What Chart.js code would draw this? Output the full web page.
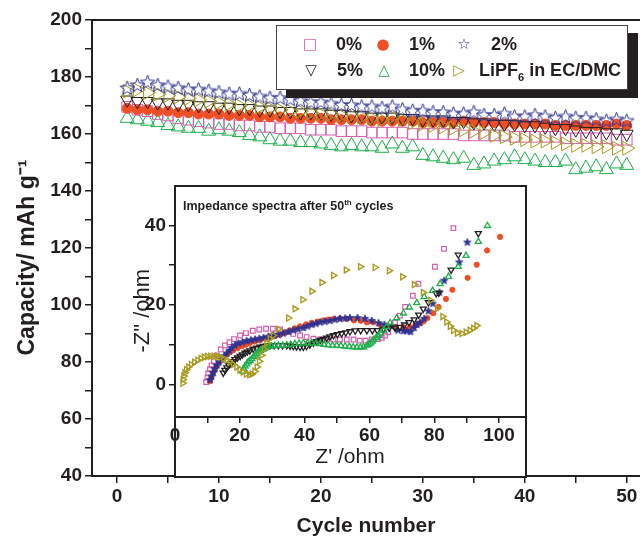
<!DOCTYPE html>
<html>
<head>
<meta charset="utf-8">
<script src="https://cdn.jsdelivr.net/npm/chart.js@4.4.0/dist/chart.umd.min.js"></script>
<style>
html,body{margin:0;padding:0;background:#fff;}
#wrap{position:relative;width:640px;height:538px;overflow:hidden;font-family:"Liberation Sans",Arial,sans-serif;color:#231f20;}
#main{position:absolute;left:0;top:0;}
#frame{position:absolute;left:174px;top:185px;width:349px;height:289px;border:2px solid #231f20;background:#fff;}
#inset{position:absolute;left:100px;top:186px;}
#ititle{position:absolute;left:183px;top:198px;font-weight:bold;font-size:12.5px;white-space:nowrap;}
#ititle sup{font-size:8px;}
#legend{position:absolute;left:276px;top:25px;width:350px;height:63px;border:1px solid #444;background:#fff;box-shadow:10px 8px 0 #231f20;}
.sym{position:absolute;font-family:"DejaVu Sans",sans-serif;font-size:15px;line-height:15px;transform:translate(-50%,-50%);}
.lt{position:absolute;font-weight:bold;font-size:18px;line-height:18px;white-space:nowrap;}
.lt sub{font-size:11px;vertical-align:-5px;line-height:0;}
</style>
</head>
<body>
<div id="wrap">
  <canvas id="main" width="640" height="538"></canvas>
  <div id="frame"></div>
  <canvas id="inset" width="425" height="290"></canvas>
  <div id="ititle">Impedance spectra after 50<sup>th</sup> cycles</div>
  <div id="legend">
    <span class="sym" style="left:33px;top:18px;color:#d45fb0">□</span>
    <span class="lt" style="left:59px;top:9px">0%</span>
    <span class="sym" style="left:106px;top:18px;color:#f04e23">●</span>
    <span class="lt" style="left:132px;top:9px">1%</span>
    <span class="sym" style="left:187px;top:18px;color:#2e3192">☆</span>
    <span class="lt" style="left:214px;top:9px">2%</span>
    <span class="sym" style="left:34px;top:44px;color:#231f20">▽</span>
    <span class="lt" style="left:60px;top:35px">5%</span>
    <span class="sym" style="left:107px;top:44px;color:#1fae4b">△</span>
    <span class="lt" style="left:132px;top:35px">10%</span>
    <span class="sym" style="left:182px;top:44px;color:#a89c20">▷</span>
    <span class="lt" style="left:202px;top:35px">LiPF<sub>6</sub> in EC/DMC</span>
  </div>
</div>
<script>
// ---- main chart: capacity vs cycle ----
var cycles = [];
for (var i = 1; i <= 50; i++) cycles.push(i);

var cap0 = [169.5,168.5,168,167,166.5,165.5,165,164.5,164,163.5,163.5,163,163,162.5,162.5,162,162,162,161.5,161.5,161.5,161,161,161,160.5,160.5,160.5,160.5,160,160,160,160,160,159.5,159.5,159.5,159.5,159.5,159,159,159,159,159,158.5,158.5,158.5,158.5,158.5,158,158];
var cap1 = [169,168.5,168.5,168,168,167.5,167.5,167,167,167,166.5,166.5,166.5,166,166,166,165.5,165.5,165.5,165.5,165,165,165,165,164.5,164.5,164.5,164.5,164.5,164,164,164,164,164.5,164,164,164,163.5,163.5,163.5,163.5,163.5,163,163,163,163,163,163,163.5,163];
var cap2 = [176,177,178,177,176.5,176,175.5,175.5,175,174.5,174,174,173.5,173,172.5,172.5,172,171.5,171,171,170.5,170,170,169.5,169.5,169,169.5,168.5,168,168,167.5,167.5,167,167,167.5,166.5,166.5,167,166,166,166.5,166,165.5,166,165.5,165.5,165,164.5,165,164.5];
var cap5 = [172,171.5,171.5,171,171,170.5,170.5,170,170,169.5,169.5,169,169,168.5,168.5,168,168,167.5,167.5,167.5,167,167,166.5,166.5,166,166,166,165.5,165.5,165,165,165,164.5,164.5,164,164,163.5,163.5,163.5,163,163,162.5,162,162,161.5,161,161,160.5,160.5,160];
var cap10 = [165.5,165,164.5,164,163,162.5,162,162,161,161.5,161,160.5,159.5,159,158,157.5,157.5,157,157,156.5,156,155.5,156,155.5,155.5,155,156.5,155,155.5,152.5,152,151.5,151,151.5,149,149.5,150.5,151,152,151,150.5,150,150,150.5,147.5,148,148.5,147.5,149.5,149];
var capL = [175,175.5,174.5,174,173.5,173,172.5,172,171.5,171,170.5,170,170,169.5,169,168.5,168,168,167.5,167,167,166.5,166.5,166,165.5,165,166,165,164,163.5,163,162.5,162,161.5,161,160.5,159.5,159,158.5,158,157.5,157.5,157,156.5,156,156,155.5,155.5,155,155];

// ---- inset: Nyquist plots after 50 cycles (Z' , -Z'') ----
var re0 = [9.6,10.0,10.3,10.8,11.3,12.0,12.9,14.1,15.4,16.8,18.2,20.1,21.9,24.0,26.0,28.1,30.2,32.4,34.5,36.5,38.6,40.6,42.7,44.8,46.8,48.9,50.9,53.0,55.1,57.0,58.8,60.7,62.6,63.8,64.8,65.8,67.9,69.4,71.0,73.4,75.1,80.2,83.0,85.9];
var im0 = [0.6,1.7,2.8,3.8,4.8,5.8,7.3,8.8,9.8,10.6,11.4,12.3,12.9,13.5,13.8,14.0,14.0,13.8,13.2,12.7,12.3,11.9,11.5,11.3,11.3,11.3,11.3,11.3,11.3,11.0,11.0,11.3,11.4,11.7,12.3,13.1,15.6,17.3,19.5,22.3,25.3,29.6,34.1,39.3];
var re1 = [10.8,11.2,11.7,12.3,13.1,13.9,15.0,16.0,17.0,18.0,19.3,20.6,21.9,23.1,24.6,26.2,27.8,29.3,30.9,32.4,34.0,35.5,37.0,38.6,40.4,42.2,44.0,45.8,47.3,48.9,50.9,53.0,55.2,57.3,59.2,61.2,63.3,65.8,67.9,70.5,72.5,74.1,75.4,76.6,77.9,79.7,81.3,83.6,85.6,90.3,93.1,96.3,100.3];
var im1 = [0.8,1.8,2.8,3.8,4.8,5.8,6.7,7.5,8.1,8.6,9.1,9.6,10.0,10.4,10.8,11.1,11.5,11.9,12.2,12.5,13.0,13.6,14.1,14.6,15.1,15.5,15.8,16.1,16.3,16.5,16.6,16.5,16.1,16.0,15.6,15.6,15.0,14.6,14.4,14.4,14.4,14.8,15.3,15.8,16.7,17.9,19.5,21.5,23.8,26.8,30.1,33.7,37.1];
var re2 = [10.8,11.3,11.8,12.3,12.9,13.6,14.4,15.2,16.0,16.8,17.5,18.5,19.5,20.8,22.1,23.4,24.7,26.0,27.3,28.8,30.3,31.8,33.4,35.0,36.5,38.0,39.6,40.9,42.2,43.5,44.8,46.3,47.8,49.4,50.9,52.5,54.0,56.3,58.6,60.7,62.8,64.6,66.9,68.8,70.5,71.5,72.7,73.8,74.6,75.6,76.9,78.2,79.5,81.6,83.1,87.7,90.2];
var im2 = [1.1,2.0,2.9,3.9,4.8,5.6,6.3,7.1,7.8,8.5,9.2,9.8,10.3,10.6,10.9,11.1,11.3,11.5,11.7,12.0,12.3,12.5,12.8,13.2,13.6,13.9,14.2,14.6,15.0,15.3,15.6,15.8,16.0,16.3,16.5,16.6,16.7,16.7,16.5,16.0,15.4,15.0,14.6,13.6,13.4,13.4,13.2,14.2,15.0,15.5,16.5,18.4,20.3,23.1,26.1,30.7,35.7];
var re5 = [14.9,15.4,16.0,16.6,17.2,17.8,18.5,19.3,20.1,20.8,21.6,22.3,23.1,24.1,25.2,26.2,27.3,28.3,29.3,30.6,31.9,33.2,34.5,35.5,36.5,37.5,38.6,39.6,40.6,41.6,42.7,43.7,44.8,45.8,46.8,47.8,48.9,50.1,51.4,52.7,54.0,55.6,57.3,59.2,60.9,62.4,64.3,66.1,67.9,69.4,70.8,72.2,73.8,75.2,76.6,78.2,80.6,81.4,85.2,87.4,93.6];
var im5 = [2.9,3.6,4.2,4.8,5.3,5.8,6.3,6.7,7.1,7.5,7.9,8.2,8.5,8.9,9.2,9.4,9.6,9.7,9.8,9.8,9.8,9.8,9.8,9.7,9.6,9.5,9.4,9.4,9.6,10.0,10.4,10.8,11.1,11.4,11.7,12.0,12.3,12.6,12.8,13.0,13.3,13.5,13.6,13.6,13.6,13.6,13.9,14.2,14.2,14.4,15.0,15.6,16.3,17.5,19.0,20.6,22.9,23.0,28.8,32.6,38.0];
var re10 = [20.9,21.2,21.6,22.1,22.6,23.1,23.7,24.2,24.7,25.2,25.7,26.4,27.1,27.7,28.3,29.0,29.8,30.8,31.9,33.2,34.5,35.7,37.0,38.3,39.6,40.9,42.2,43.5,44.8,46.0,47.3,48.6,49.9,51.2,52.5,53.8,55.0,56.1,57.2,58.2,59.2,59.8,60.4,60.9,61.4,62.1,62.8,63.5,64.3,65.3,66.4,68.4,70.5,72.3,74.6,76.9,79.5,81.8,84.4,87.4,89.8,93.6,96.4];
var im10 = [3.3,4.0,4.6,5.1,5.6,6.0,6.4,6.9,7.3,7.7,8.1,8.5,8.8,9.1,9.3,9.5,9.6,9.7,9.8,9.8,9.9,10.0,10.2,10.3,10.4,10.4,10.4,10.3,10.2,10.0,9.9,9.8,9.8,9.7,9.6,9.5,9.4,9.3,9.3,9.4,9.8,10.1,10.4,10.8,11.3,11.8,12.3,12.9,13.6,14.5,15.5,16.7,17.9,19.4,20.5,22.0,23.6,25.3,27.1,29.6,32.4,35.9,39.9];
var reL = [2.4,2.5,2.7,3.0,3.5,4.2,5.0,6.0,7.0,8.0,9.0,10.0,11.0,12.0,13.0,14.0,15.0,16.0,17.0,18.0,19.0,20.0,21.0,22.0,23.0,23.8,24.6,25.3,26.0,26.7,27.5,28.3,29.3,30.3,31.9,35.0,37.0,39.4,42.2,45.3,48.9,52.8,57.2,61.7,66.1,70.2,73.8,76.6,78.9,81.0,82.6,83.8,84.9,85.9,87.1,88.5,89.8,91.0,92.1,93.1];
var imL = [0.3,1.2,2.1,2.9,3.7,4.4,5.0,5.6,6.1,6.5,6.8,7.0,7.1,7.1,7.0,6.8,6.5,6.1,5.6,5.0,4.4,3.7,3.1,2.6,2.4,2.6,3.3,4.4,5.8,7.3,8.9,10.4,11.5,12.3,13.9,16.7,19.0,21.3,23.4,25.6,27.4,28.8,29.6,29.4,28.6,27.1,25.1,23.1,21.1,19.1,17.1,15.7,14.6,13.6,12.9,12.8,13.1,13.6,14.1,14.8];

var FONT = '"Liberation Sans", Arial, sans-serif';
var INK = '#231f20';
var PINK = '#d45fb0', ORANGE = '#f04e23', NAVY = '#2e3192', BLACK = '#231f20', GREEN = '#1fae4b', OLIVE = '#a89c20';

function pts(xs, ys){
  var out = [];
  for (var i = 0; i < xs.length; i++) out.push({x: xs[i], y: ys[i]});
  return out;
}

// 5-point star, chart.js only has the asterisk type
function makeStar(r, stroke, fill, lw){
  var c = document.createElement('canvas');
  var s = Math.ceil(2*r + 2*lw + 2);
  c.width = s; c.height = s;
  var g = c.getContext('2d');
  g.beginPath();
  for (var i = 0; i < 10; i++){
    var a = -Math.PI/2 + i*Math.PI/5;
    var rr = (i % 2) ? r*0.42 : r;
    g.lineTo(s/2 + rr*Math.cos(a), s/2 + rr*Math.sin(a));
  }
  g.closePath();
  if (fill){ g.fillStyle = fill; g.fill(); }
  g.strokeStyle = stroke; g.lineWidth = lw; g.stroke();
  return c;
}

function tickFont(){ return {family: FONT, size: 19, weight: 'bold'}; }

// keep the plot area exactly where afterFit puts it
function fixX(h){ return function(s){ s.height = h; s.paddingLeft = 0; s.paddingRight = 0; }; }
function fixY(w){ return function(s){ s.width = w; s.paddingTop = 0; s.paddingBottom = 0; }; }

var topLine = {
  id: 'topLine',
  afterDraw: function(chart){
    var a = chart.chartArea, g = chart.ctx;
    g.save();
    g.strokeStyle = INK; g.lineWidth = 2;
    g.beginPath(); g.moveTo(a.left, a.top); g.lineTo(a.right, a.top); g.stroke();
    g.restore();
  }
};

function ds(label, xs, ys, style, color, fill, r, order, extra){
  var d = {
    label: label, data: pts(xs, ys), showLine: false,
    pointStyle: style, pointRadius: r, pointHoverRadius: r,
    borderColor: color, backgroundColor: fill, pointBorderWidth: 1, order: order
  };
  if (extra) for (var k in extra) d[k] = extra[k];
  return d;
}

var bigStar = makeStar(7.5, NAVY, null, 1);
new Chart(document.getElementById('main'), {
  type: 'scatter',
  data: {
    datasets: [
      ds('2%', cycles, cap2, bigStar, NAVY, 'rgba(0,0,0,0)', 7, 1),
      ds('LiPF6 in EC/DMC', cycles, capL, 'triangle', OLIVE, 'rgba(0,0,0,0)', 8, 2, {rotation: 90}),
      ds('5%', cycles, cap5, 'triangle', BLACK, 'rgba(0,0,0,0)', 7.5, 3, {rotation: 180}),
      ds('1%', cycles, cap1, 'circle', ORANGE, ORANGE, 5, 4),
      ds('0%', cycles, cap0, 'rect', PINK, 'rgba(0,0,0,0)', 7.5, 5),
      ds('10%', cycles, cap10, 'triangle', GREEN, 'rgba(0,0,0,0)', 8, 6)
    ]
  },
  options: {
    responsive: false, animation: false, devicePixelRatio: 1,
    layout: {autoPadding: false, padding: {left: 0, right: 0, top: 20, bottom: 0}},
    plugins: {legend: {display: false}, tooltip: {enabled: false}},
    scales: {
      x: {
        type: 'linear', min: -2.45, max: 51.3,
        afterFit: fixX(62),
        ticks: {stepSize: 5, maxTicksLimit: 100, includeBounds: false, autoSkip: false, maxRotation: 0,
                font: tickFont(), color: INK, padding: 2,
                callback: function(v){ return v % 10 === 0 ? v : ''; }},
        grid: {drawOnChartArea: false, tickLength: 7, color: INK, lineWidth: 1.5},
        border: {color: INK, width: 2},
        title: {display: true, text: 'Cycle number', color: INK,
                font: {family: FONT, size: 21, weight: 'bold', lineHeight: 1}, padding: {top: 0, bottom: 1}}
      },
      y: {
        min: 40, max: 200,
        afterFit: fixY(92),
        ticks: {stepSize: 10, maxTicksLimit: 100, includeBounds: false, font: tickFont(), color: INK, padding: 3,
                callback: function(v){ return v % 20 === 0 ? v : ''; }},
        grid: {drawOnChartArea: false, tickLength: 7, color: INK, lineWidth: 1.5},
        border: {color: INK, width: 2},
        title: {display: true, text: 'Capacity/ mAh g\u207B\u00B9   ', color: INK,
                font: {family: FONT, size: 23, weight: 'bold', lineHeight: 1}, padding: {top: 16, bottom: 0}}
      }
    }
  },
  plugins: [topLine]
});

var smallStar = makeStar(3.8, NAVY, NAVY, 1);
new Chart(document.getElementById('inset'), {
  type: 'scatter',
  data: {
    datasets: [
      ds('0%', re0, im0, 'rect', PINK, 'rgba(0,0,0,0)', 3.3, 6, {pointBorderWidth: 1.2}),
      ds('1%', re1, im1, 'circle', ORANGE, ORANGE, 2.6, 5),
      ds('2%', re2, im2, smallStar, NAVY, NAVY, 3.5, 4),
      ds('5%', re5, im5, 'triangle', BLACK, 'rgba(0,0,0,0)', 3.5, 3, {rotation: 180, pointBorderWidth: 1.3}),
      ds('10%', re10, im10, 'triangle', GREEN, 'rgba(0,0,0,0)', 3.5, 2, {pointBorderWidth: 1.3}),
      ds('LiPF6 in EC/DMC', reL, imL, 'triangle', OLIVE, 'rgba(0,0,0,0)', 3.5, 1, {rotation: 90, pointBorderWidth: 1.4})
    ]
  },
  options: {
    responsive: false, animation: false, devicePixelRatio: 1,
    layout: {autoPadding: false, padding: 0},
    plugins: {legend: {display: false}, tooltip: {enabled: false}},
    scales: {
      x: {
        type: 'linear', min: 0, max: 108,
        afterFit: fixX(59),
        ticks: {stepSize: 10, maxTicksLimit: 100, includeBounds: false, autoSkip: false, maxRotation: 0,
                font: tickFont(), color: INK, padding: 1,
                callback: function(v){ return v % 20 === 0 ? v : ''; }},
        grid: {drawOnChartArea: false, tickLength: 6, color: INK, lineWidth: 1.5},
        border: {color: INK, width: 2},
        title: {display: true, text: "Z' /ohm", color: INK,
                font: {family: FONT, size: 21, lineHeight: 1}, padding: {top: 0, bottom: 8}}
      },
      y: {
        min: -8.2, max: 49.9,
        afterFit: fixY(75),
        ticks: {stepSize: 10, maxTicksLimit: 100, includeBounds: false, font: tickFont(), color: INK, padding: 3,
                callback: function(v){ return v % 20 === 0 ? v : ''; }},
        grid: {drawOnChartArea: false, tickLength: 6, color: INK, lineWidth: 1.5},
        border: {color: INK, width: 2},
        title: {display: true, text: '-Z" /ohm   ', color: INK,
                font: {family: FONT, size: 22, lineHeight: 1}, padding: {top: 32, bottom: 0}}
      }
    }
  }
});
</script>
</body>
</html>
